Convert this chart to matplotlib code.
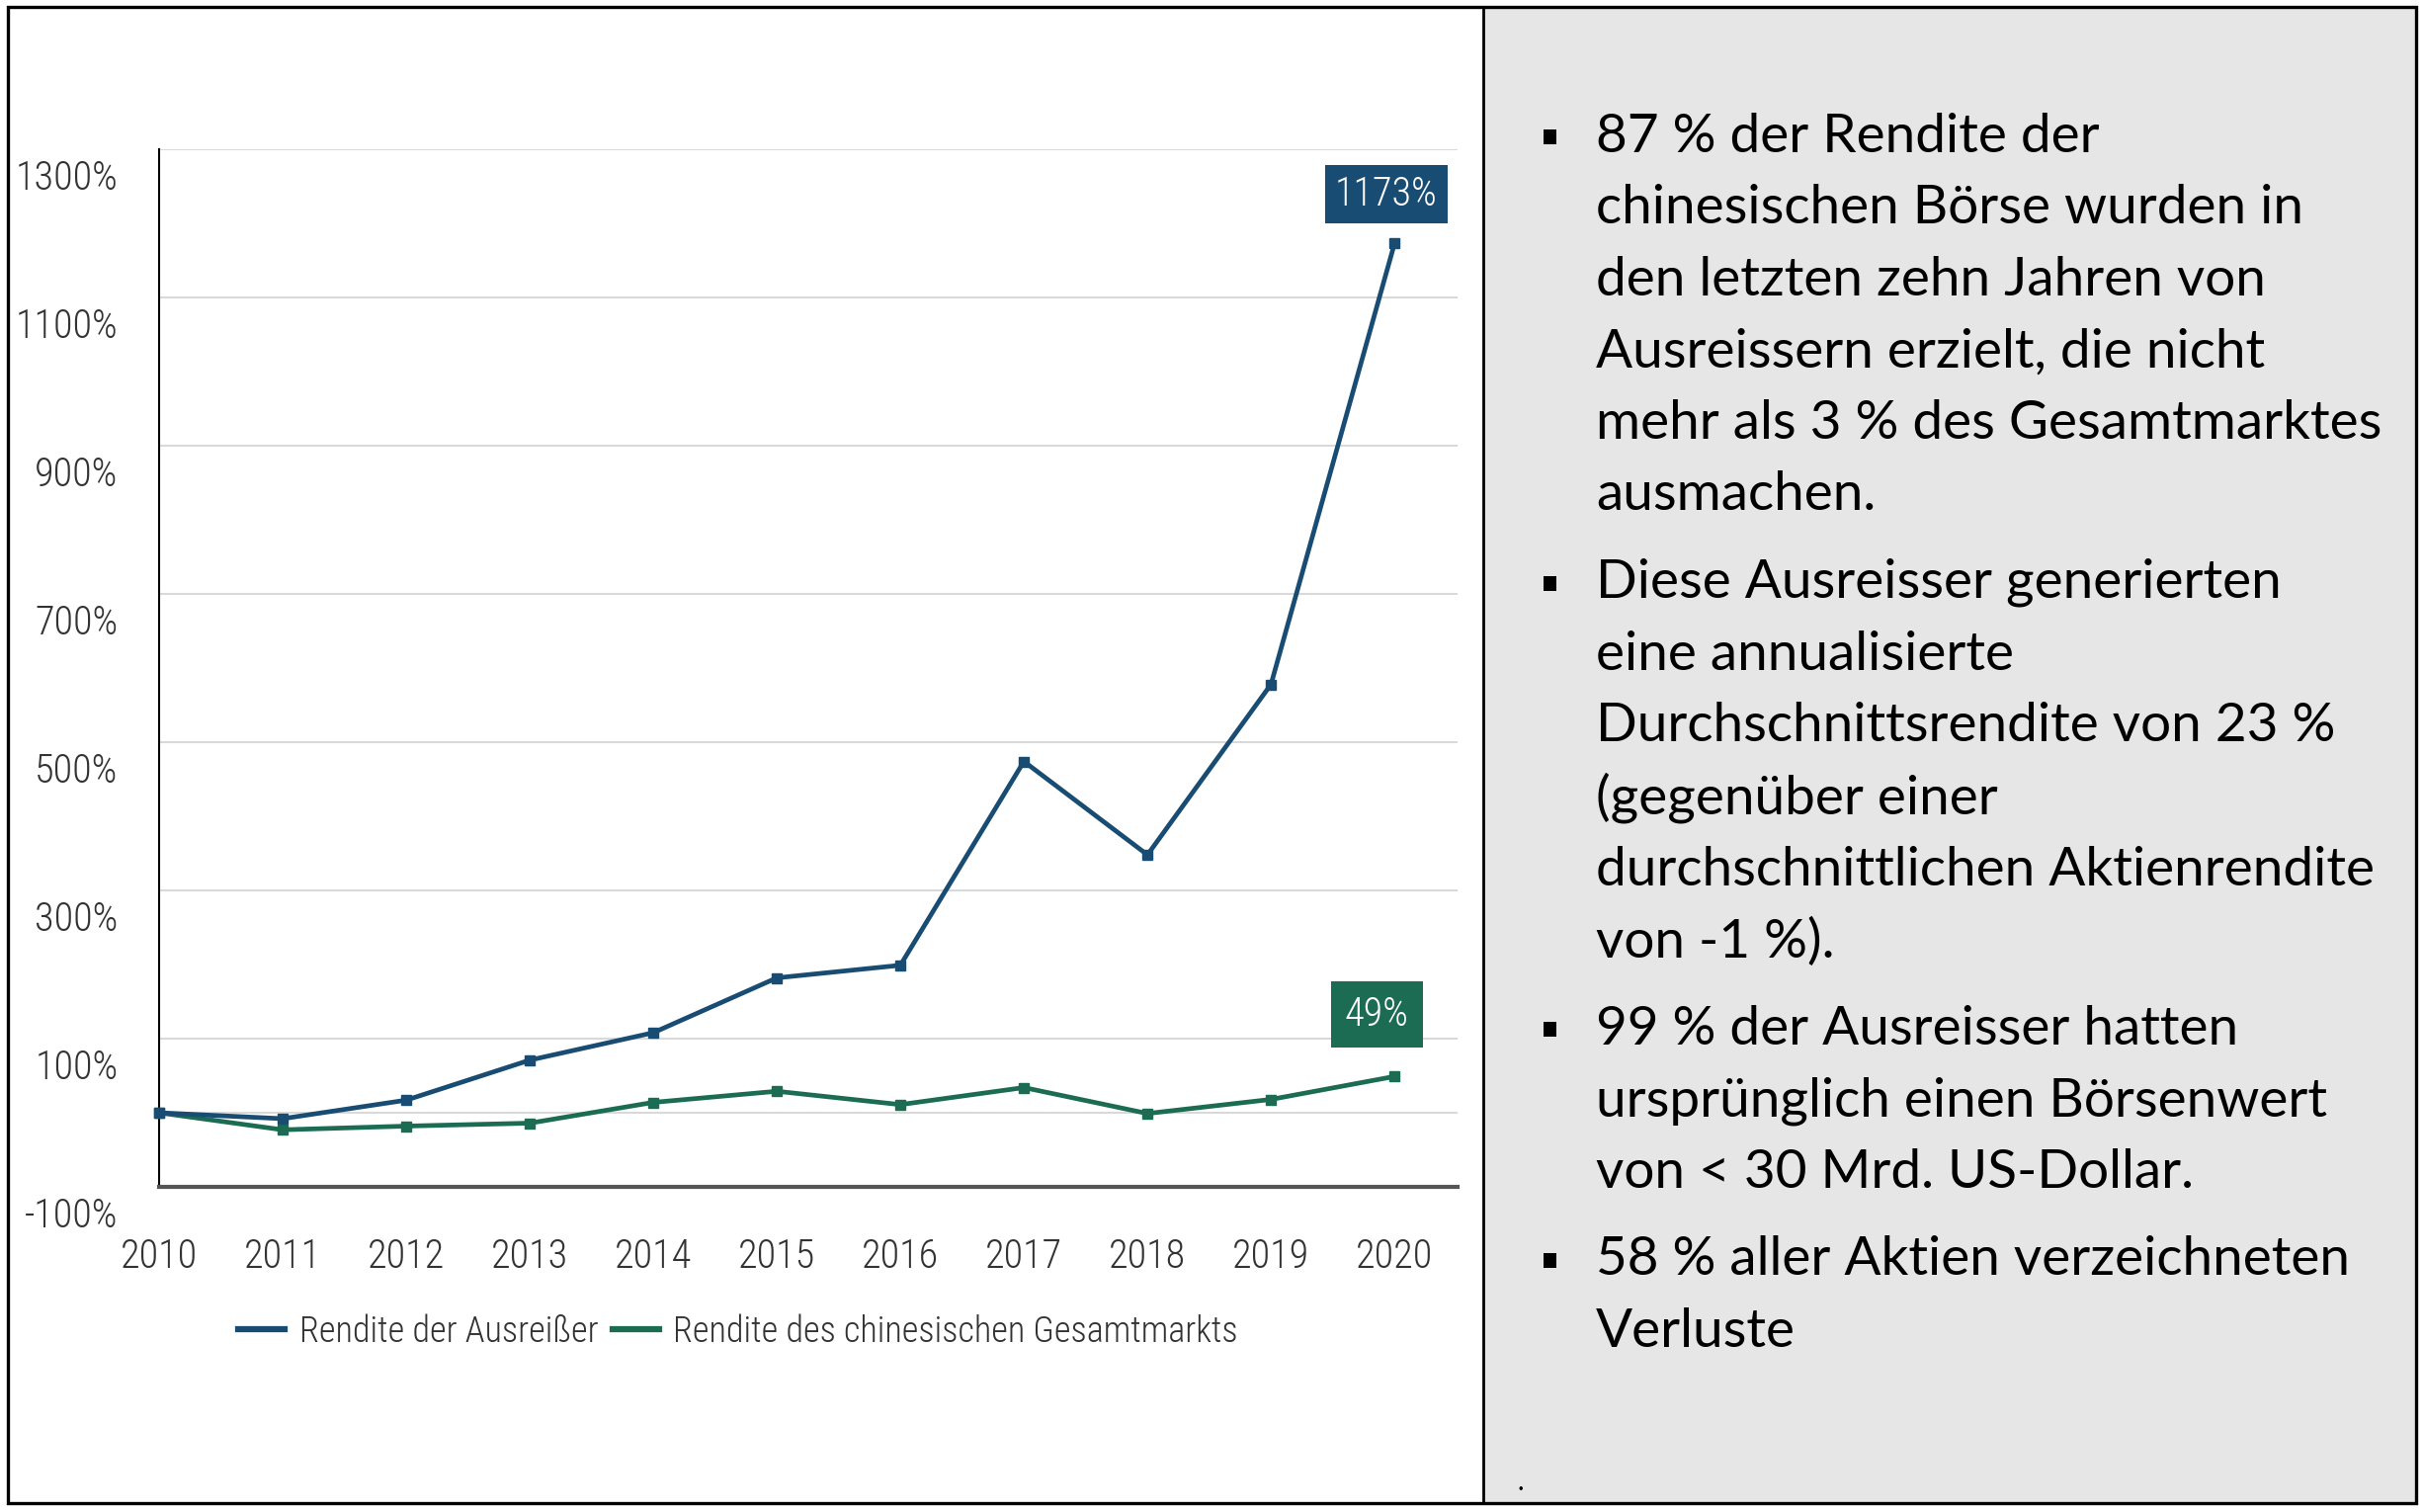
import matplotlib
matplotlib.use("Agg")
import matplotlib.pyplot as plt
import matplotlib.transforms as mtransforms
from matplotlib.patches import Rectangle
from matplotlib.lines import Line2D

# data (returns in %)
years = [2010, 2011, 2012, 2013, 2014, 2015, 2016, 2017, 2018, 2019, 2020]
outliers = [0, -8, 17, 71, 108, 182, 199, 474, 348, 578, 1173]
market = [0, -23, -18, -14, 14, 29, 11, 34, -1, 18, 49]
series_names = ["Rendite der Ausreißer", "Rendite des chinesischen Gesamtmarkts"]
end_labels = ["1173%", "49%"]
ytick_vals = [-100, 100, 300, 500, 700, 900, 1100, 1300]
grid_vals = [0, 100, 300, 500, 700, 900, 1100, 1300]

bullets = [
    ["87 % der Rendite der",
     "chinesischen Börse wurden in",
     "den letzten zehn Jahren von",
     "Ausreissern erzielt, die nicht",
     "mehr als 3 % des Gesamtmarktes",
     "ausmachen."],
    ["Diese Ausreisser generierten",
     "eine annualisierte",
     "Durchschnittsrendite von 23 %",
     "(gegenüber einer",
     "durchschnittlichen Aktienrendite",
     "von -1 %)."],
    ["99 % der Ausreisser hatten",
     "ursprünglich einen Börsenwert",
     "von < 30 Mrd. US-Dollar."],
    ["58 % aller Aktien verzeichneten",
     "Verluste"],
]

blue = "#184c73"
green = "#1b6c53"
W, H = 2452, 1530
chart_font = ["Roboto Condensed", "Liberation Sans"]


def fx(px):
    return px / W


def fy(py):
    return 1 - py / H


fig = plt.figure(figsize=(W / 100, H / 100), dpi=100)
fig.patch.set_facecolor("white")

# right text panel + table borders
fig.add_artist(Rectangle((fx(1501), fy(1521)), fx(2445) - fx(1501), fy(7) - fy(1521),
                         transform=fig.transFigure, fc="#e7e6e6", ec="none", zorder=0))
fig.add_artist(Rectangle((fx(8), fy(1521)), fx(2445) - fx(8), fy(7) - fy(1521),
                         transform=fig.transFigure, fc="none", ec="black", lw=2.4, zorder=5))
fig.add_artist(Line2D([fx(1501), fx(1501)], [fy(7), fy(1521)], transform=fig.transFigure,
                      color="black", lw=2.0, zorder=5))

# chart
ax = fig.add_axes([fx(161), fy(1201), fx(1475) - fx(161), fy(151) - fy(1201)])
for g in grid_vals:
    ax.axhline(g, color="#d9d9d9", lw=1.5, zorder=0)
ax.plot(years, market, color=green, lw=3.4, marker="s", ms=7, clip_on=False, zorder=3)
ax.plot(years, outliers, color=blue, lw=3.4, marker="s", ms=7, clip_on=False, zorder=4)

ax.set_xlim(2010, 2020.51)
ax.set_ylim(-100, 1300)
ax.set_xticks(years)
ax.set_xticklabels([str(y) for y in years])
ax.set_yticks(ytick_vals)
ax.set_yticklabels([f"{v}%" for v in ytick_vals])
ax.tick_params(length=0, labelsize=29, colors="#333333")
ax.tick_params(axis="x", pad=37)
ax.tick_params(axis="y", pad=30)
for lab in ax.get_xticklabels() + ax.get_yticklabels():
    lab.set_family(chart_font)
    lab.set_fontweight("light")
# y labels sit a bit below their gridlines in the original
shift = mtransforms.ScaledTranslation(0, -0.26, fig.dpi_scale_trans)
for lab in ax.get_yticklabels():
    lab.set_transform(lab.get_transform() + shift)

for s in ["top", "right"]:
    ax.spines[s].set_visible(False)
ax.spines["left"].set_color("black")
ax.spines["left"].set_linewidth(1.5)
ax.spines["bottom"].set_color("#555555")
ax.spines["bottom"].set_linewidth(3)

ax.annotate(end_labels[0], xy=(years[-1], outliers[-1]), xytext=(-6, 36),
            textcoords="offset points", ha="center", va="center", color="white",
            fontsize=29, family=chart_font, fontweight="light",
            bbox=dict(boxstyle="square,pad=0.25", fc=blue, ec="none"))
ax.annotate(end_labels[1], xy=(years[-1], market[-1]), xytext=(-13, 45),
            textcoords="offset points", ha="center", va="center", color="white",
            fontsize=29, family=chart_font, fontweight="light",
            bbox=dict(boxstyle="square,pad=0.35", fc=green, ec="none"))

handles = [Line2D([], [], color=blue, lw=4.5), Line2D([], [], color=green, lw=4.5)]
leg = ax.legend(handles, series_names, loc="center", bbox_to_anchor=(0.446, -0.14),
                ncol=2, frameon=False, handlelength=1.3, handletextpad=0.4,
                columnspacing=0.4, prop={"family": chart_font, "size": 26,
                                         "weight": "light"})
for t in leg.get_texts():
    t.set_color("#333333")

# bullet text
line_h = 72.6
para_gap = 16
y = 138
for p, para in enumerate(bullets):
    fig.add_artist(Rectangle((fx(1562), fy(y + 8)), fx(13), 15 / H,
                             transform=fig.transFigure, fc="black", ec="none"))
    for line in para:
        fig.text(fx(1615), fy(y), line, family="Lato", fontsize=39.5, color="black",
                 va="center")
        y += line_h
    y += para_gap

fig.text(fx(1536), fy(1500), ".", family="Lato", fontsize=20, color="black", va="center")

fig.savefig("out.png", dpi=100)
